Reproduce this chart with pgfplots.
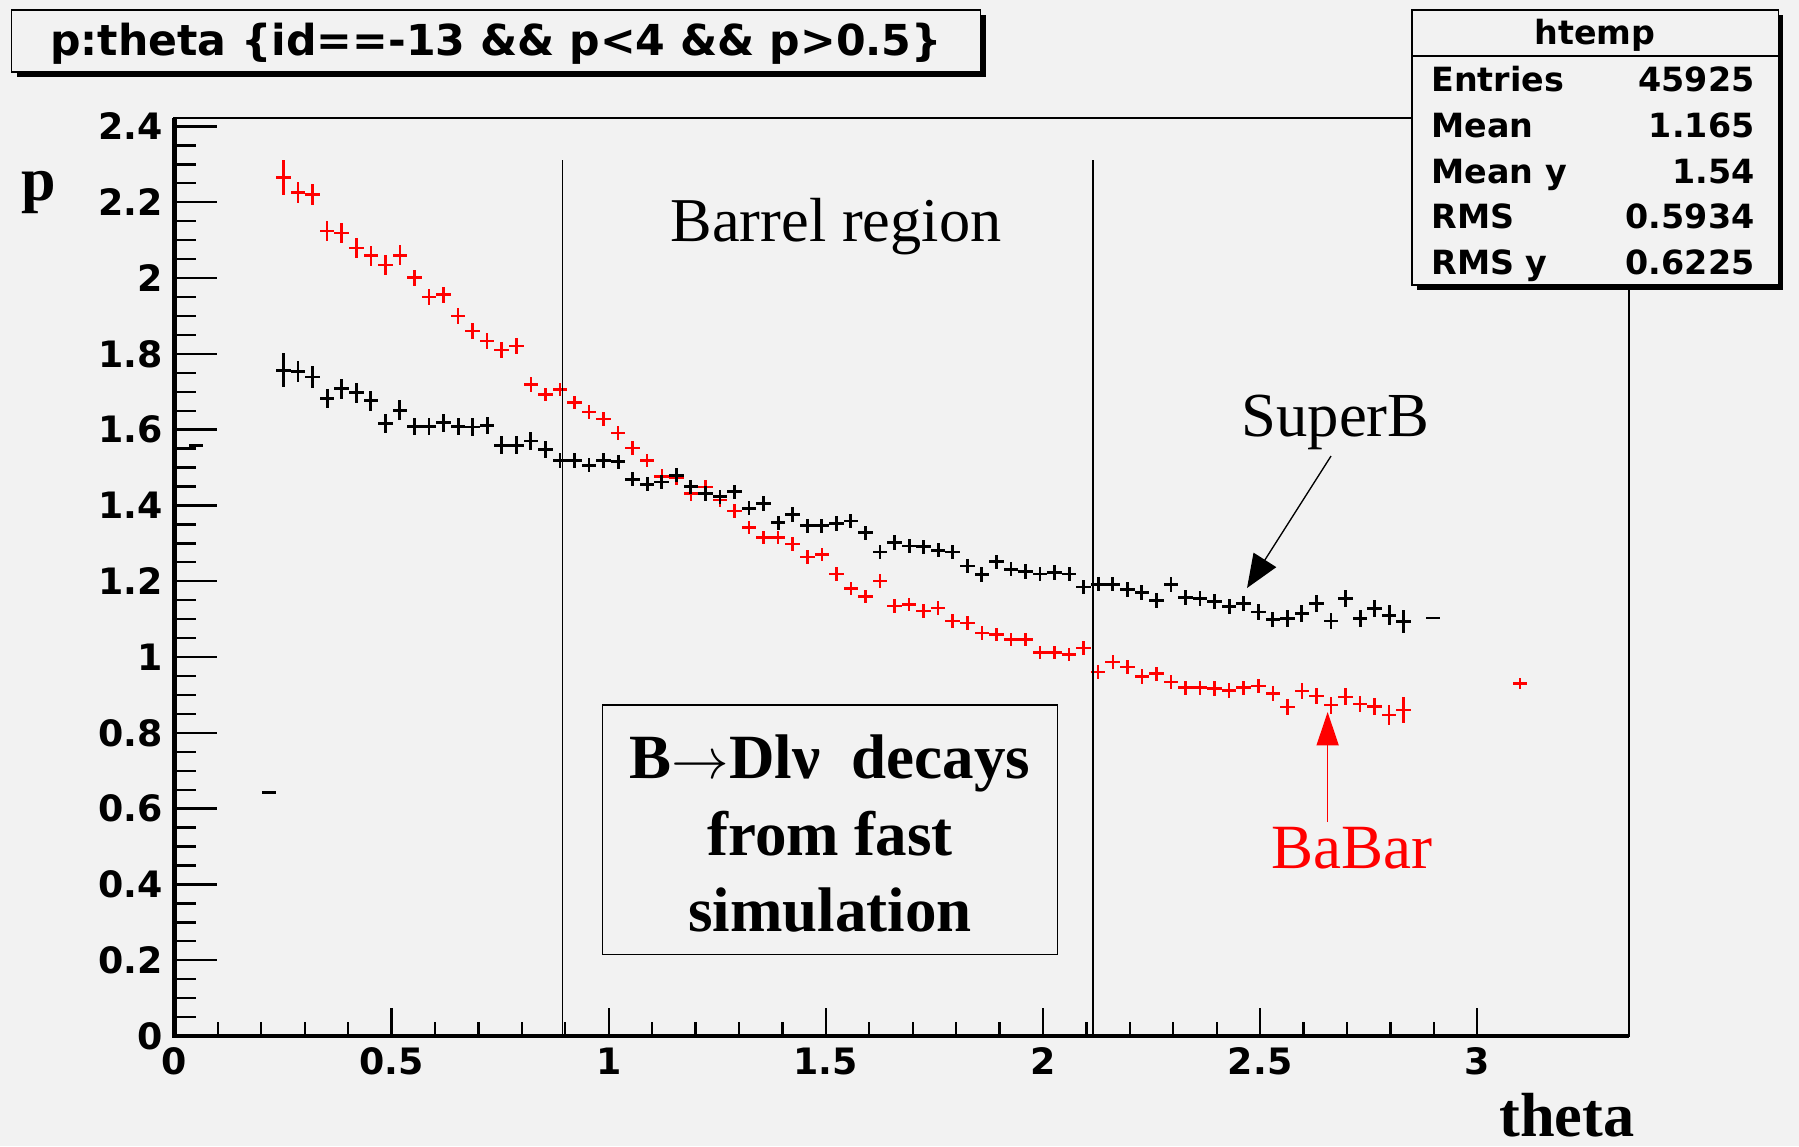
\documentclass[border=0pt]{standalone}
\usepackage{pgfplots}
\pgfplotsset{compat=1.18}
\usepackage{pgfplotstable}
\usepackage{fontspec}
\usetikzlibrary{arrows.meta}
\newfontfamily\rootfont{DejaVu Sans}
\newfontfamily\tnr{Liberation Serif}
\definecolor{bg}{RGB}{242,242,242}

% BaBar (red): bin centre, mean p, error
\pgfplotstableread{
x y ey
0.25125 2.265 0.047
0.28475 2.226 0.028
0.31825 2.221 0.028
0.35175 2.124 0.026
0.38525 2.119 0.026
0.41875 2.079 0.026
0.45225 2.059 0.026
0.48575 2.035 0.026
0.51925 2.060 0.026
0.55275 2.001 0.021
0.58625 1.950 0.021
0.61975 1.956 0.021
0.65325 1.900 0.021
0.68675 1.860 0.021
0.72025 1.834 0.021
0.75375 1.810 0.021
0.78725 1.821 0.021
0.82075 1.719 0.021
0.85425 1.693 0.018
0.88775 1.706 0.018
0.92125 1.672 0.018
0.95475 1.647 0.018
0.98825 1.628 0.018
1.02175 1.591 0.018
1.05525 1.552 0.018
1.08875 1.519 0.018
1.12225 1.477 0.018
1.15575 1.472 0.018
1.18925 1.431 0.018
1.22275 1.449 0.018
1.25625 1.414 0.018
1.28975 1.385 0.018
1.32325 1.342 0.018
1.35675 1.315 0.018
1.39025 1.315 0.018
1.42375 1.298 0.018
1.45725 1.264 0.018
1.49075 1.271 0.018
1.52425 1.219 0.018
1.55775 1.181 0.018
1.59125 1.160 0.018
1.62475 1.200 0.018
1.65825 1.135 0.018
1.69175 1.139 0.018
1.72525 1.122 0.018
1.75875 1.130 0.018
1.79225 1.095 0.018
1.82575 1.090 0.018
1.85925 1.064 0.018
1.89275 1.059 0.018
1.92625 1.046 0.018
1.95975 1.046 0.018
1.99325 1.012 0.018
2.02675 1.012 0.018
2.06025 1.007 0.018
2.09375 1.024 0.018
2.12725 0.961 0.018
2.16075 0.987 0.018
2.19425 0.974 0.019
2.22775 0.949 0.019
2.26125 0.956 0.019
2.29475 0.934 0.019
2.32825 0.919 0.019
2.36175 0.919 0.019
2.39525 0.917 0.019
2.42875 0.912 0.019
2.46225 0.919 0.019
2.49575 0.924 0.019
2.52925 0.904 0.019
2.56275 0.868 0.022
2.59625 0.910 0.022
2.62975 0.897 0.022
2.66325 0.873 0.022
2.69675 0.895 0.022
2.73025 0.876 0.022
2.76375 0.870 0.022
2.79725 0.847 0.026
2.83075 0.860 0.034
3.09875 0.930 0.014
}\tred

% SuperB (black)
\pgfplotstableread{
x y ey
0.05025 1.558 0
0.21775 0.643 0
0.25125 1.757 0.044
0.28475 1.754 0.028
0.31825 1.739 0.028
0.35175 1.682 0.026
0.38525 1.708 0.026
0.41875 1.697 0.026
0.45225 1.676 0.026
0.48575 1.616 0.026
0.51925 1.651 0.026
0.55275 1.609 0.023
0.58625 1.609 0.023
0.61975 1.618 0.023
0.65325 1.609 0.023
0.68675 1.607 0.023
0.72025 1.611 0.023
0.75375 1.559 0.023
0.78725 1.559 0.023
0.82075 1.570 0.023
0.85425 1.547 0.023
0.88775 1.519 0.019
0.92125 1.519 0.019
0.95475 1.506 0.019
0.98825 1.519 0.019
1.02175 1.515 0.019
1.05525 1.469 0.019
1.08875 1.456 0.019
1.12225 1.462 0.019
1.15575 1.480 0.019
1.18925 1.449 0.019
1.22275 1.431 0.019
1.25625 1.423 0.019
1.28975 1.436 0.019
1.32325 1.393 0.019
1.35675 1.405 0.019
1.39025 1.354 0.019
1.42375 1.376 0.019
1.45725 1.346 0.019
1.49075 1.346 0.019
1.52425 1.352 0.019
1.55775 1.359 0.019
1.59125 1.328 0.019
1.62475 1.277 0.019
1.65825 1.302 0.019
1.69175 1.293 0.019
1.72525 1.291 0.019
1.75875 1.282 0.019
1.79225 1.277 0.019
1.82575 1.240 0.019
1.85925 1.218 0.019
1.89275 1.251 0.019
1.92625 1.232 0.019
1.95975 1.226 0.019
1.99325 1.219 0.019
2.02675 1.223 0.019
2.06025 1.219 0.019
2.09375 1.185 0.019
2.12725 1.192 0.019
2.16075 1.192 0.019
2.19425 1.178 0.020
2.22775 1.170 0.020
2.26125 1.150 0.020
2.29475 1.192 0.020
2.32825 1.157 0.020
2.36175 1.154 0.020
2.39525 1.146 0.020
2.42875 1.134 0.020
2.46225 1.141 0.020
2.49575 1.119 0.020
2.52925 1.099 0.020
2.56275 1.102 0.022
2.59625 1.115 0.022
2.62975 1.141 0.022
2.66325 1.095 0.022
2.69675 1.154 0.022
2.73025 1.102 0.022
2.76375 1.128 0.022
2.79725 1.110 0.026
2.83075 1.093 0.030
2.89775 1.103 0
}\tblk

\begin{document}
\begin{tikzpicture}
\fill[bg] (0pt,0pt) rectangle (539.7pt,-343.8pt);

\begin{axis}[
  at={(52.32pt,-310.8pt)}, anchor=south west,
  scale only axis, width=436.44pt, height=275.4pt,
  xmin=0, xmax=3.35, ymin=0, ymax=2.4222,
  clip=false,
  axis line style={line width=0.6pt, black},
  xtick={0,0.5,1,1.5,2,2.5,3}, minor x tick num=4,
  ytick=\empty,
  xtick pos=left, tick align=inside,
  major tick length=8.4pt, minor tick length=4.2pt,
  tick style={line width=0.7pt, black},
  ticklabel style={font=\rootfont\bfseries\fontsize{10.9}{12}\selectfont},
  /pgf/number format/assume math mode=true,
]
\addplot[draw=none, mark=none,
  error bars/.cd, x dir=both, x fixed=0.01675, y dir=both, y explicit,
  error mark=none, error bar style={draw=red, line width=0.75pt}]
  table[x=x, y=y, y error=ey] {\tred};
\addplot[draw=none, mark=none,
  error bars/.cd, x dir=both, x fixed=0.01675, y dir=both, y explicit,
  error mark=none, error bar style={draw=black, line width=0.85pt}]
  table[x=x, y=y, y error=ey] {\tblk};
\draw[line width=0.45pt] (axis cs:0.894,0) -- (axis cs:0.894,2.311);
\draw[line width=0.45pt] (axis cs:2.115,0) -- (axis cs:2.115,2.311);
\draw[line width=1.3pt] (rel axis cs:0,1) -- (rel axis cs:0,0) -- (rel axis cs:1,0);
\end{axis}

\begin{axis}[
  at={(52.32pt,-310.8pt)}, anchor=south west,
  scale only axis, width=436.44pt, height=275.4pt,
  xmin=0, xmax=3.35, ymin=0, ymax=2.4222,
  hide x axis,
  axis line style={line width=0.6pt, black},
  ytick={0,0.2,0.4,0.6,0.8,1,1.2,1.4,1.6,1.8,2,2.2,2.4}, minor y tick num=3,
  ytick pos=left, tick align=inside,
  major tick length=12.9pt, minor tick length=6.6pt,
  tick style={line width=0.7pt, black},
  ticklabel style={font=\rootfont\bfseries\fontsize{10.9}{12}\selectfont},
  /pgf/number format/assume math mode=true,
]
\addplot[draw=none] coordinates {(1,1)};
\end{axis}

\begin{scope}[x=0.3pt, y=-0.3pt]
% title box
\fill[black] (16.5,15) rectangle (986,77);
\draw[fill=bg, line width=0.5pt] (11.5,10) rectangle (980.5,72);
\node[anchor=base, inner sep=0, font=\rootfont\bfseries\fontsize{12.8}{15}\selectfont]
  at (496,55) {p:theta \{id==-13 \&\& p<4 \&\& p>0.5\}};
% stats box
\fill[black] (1416.5,15) rectangle (1783,290);
\draw[fill=bg, line width=0.5pt] (1411.7,10) rectangle (1778.3,285);
\draw[line width=0.5pt] (1411.7,56) -- (1778.3,56);
\begin{scope}[every node/.style={inner sep=0, font=\rootfont\bfseries\fontsize{10}{12}\selectfont}]
\node[anchor=base] at (1595,44) {htemp};
\node[anchor=base west] at (1430.7,91.4) {Entries};
\node[anchor=base east] at (1755,91.4) {45925};
\node[anchor=base west] at (1430.7,137.2) {Mean};
\node[anchor=base east] at (1755,137.2) {1.165};
\node[anchor=base west] at (1430.7,183) {Mean y};
\node[anchor=base east] at (1755,183) {1.54};
\node[anchor=base west] at (1430.7,228.8) {RMS};
\node[anchor=base east] at (1755,228.8) {0.5934};
\node[anchor=base west] at (1430.7,274.6) {RMS y};
\node[anchor=base east] at (1755,274.6) {0.6225};
\end{scope}
% axis titles
\node[anchor=base west, inner sep=0, font=\tnr\bfseries\fontsize{18.6}{22}\selectfont] at (21,200) {p};
\node[anchor=base, inner sep=0, font=\tnr\bfseries\fontsize{18.7}{22}\selectfont] at (1567,1136) {theta};
% annotations
\node[anchor=base, inner sep=0, font=\tnr\fontsize{18.7}{22}\selectfont] at (836,241) {Barrel region};
\node[anchor=base, inner sep=0, font=\tnr\fontsize{18.8}{22}\selectfont] at (1335.5,436) {SuperB};
\node[anchor=base, inner sep=0, text=red, font=\tnr\fontsize{18.9}{22}\selectfont] at (1352,868) {BaBar};
\draw[line width=0.4pt, -{Triangle[length=10pt,width=8pt]}] (1331,456) -- (1247,588);
\draw[red, line width=0.5pt, -{Triangle[length=10pt,width=6.6pt]}] (1327.6,822) -- (1327.6,712);
% text box
\draw[line width=0.45pt] (602.7,705) rectangle (1057.7,954.3);
\begin{scope}[every node/.style={anchor=base, inner sep=0, font=\tnr\bfseries\fontsize{18.9}{23}\selectfont}]
\node at (830,778.3) {B$\rightarrow$Dlν\ \ decays};
\node at (830,855) {from fast};
\node at (830,931.7) {simulation};
\end{scope}
\end{scope}
\end{tikzpicture}
\end{document}
